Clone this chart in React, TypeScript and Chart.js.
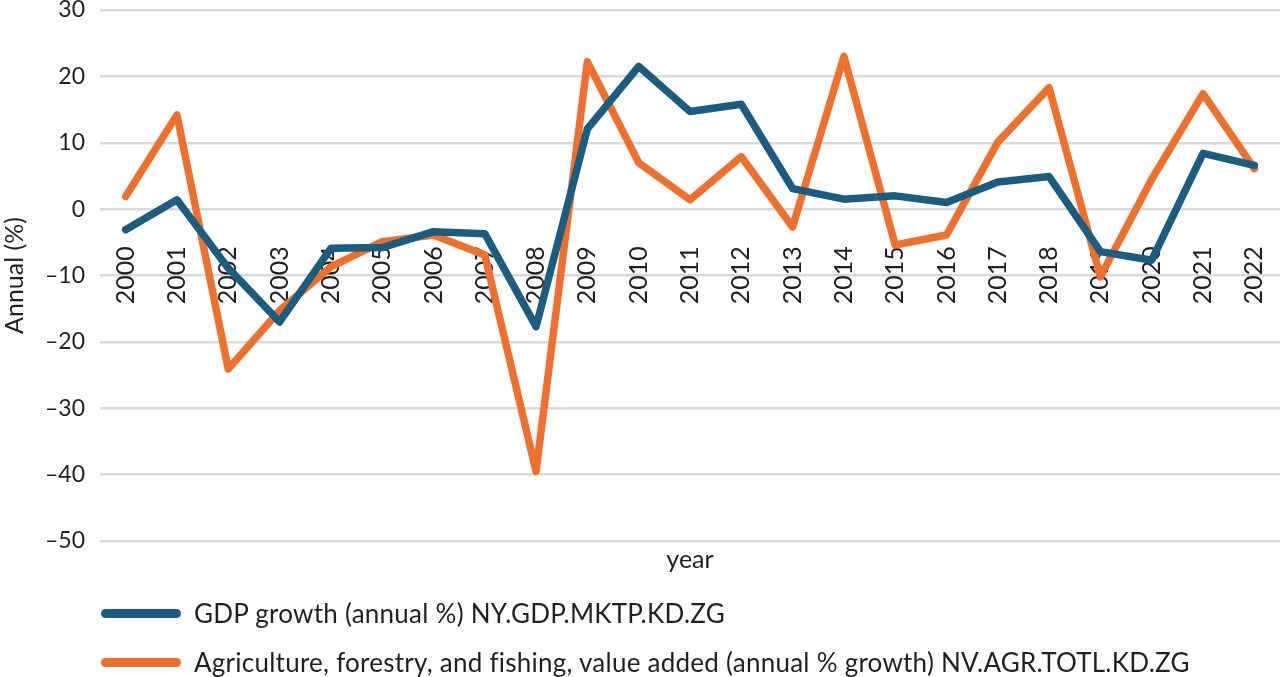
import { useEffect, useRef } from 'react';
import { Chart, registerables } from 'chart.js';

Chart.register(...registerables);

const years = [
  '2000', '2001', '2002', '2003', '2004', '2005', '2006', '2007', '2008', '2009', '2010', '2011',
  '2012', '2013', '2014', '2015', '2016', '2017', '2018', '2019', '2020', '2021', '2022',
];

const gdpGrowth = [
  -3.1, 1.4, -8.9, -17.0, -5.9, -5.8, -3.4, -3.7, -17.7, 12.1, 21.5, 14.7,
  15.8, 3.1, 1.5, 2.0, 1.0, 4.1, 4.9, -6.4, -7.7, 8.4, 6.6,
];

const agriGrowth = [
  1.9, 14.2, -24.1, -15.3, -8.7, -4.9, -3.9, -6.9, -39.5, 22.2, 7.0, 1.4,
  7.9, -2.7, 23.0, -5.4, -3.9, 10.1, 18.3, -10.2, 4.5, 17.4, 6.1,
];

const seriesNames = [
  'GDP growth (annual %) NY.GDP.MKTP.KD.ZG',
  'Agriculture, forestry, and fishing, value added (annual % growth) NV.AGR.TOTL.KD.ZG',
];
const seriesColors = ['#1b5d80', '#ee702e'];

const FONT = 'Lato, "Noto Sans", sans-serif';
const TEXT = '#231f20';

export default function App() {
  const canvasRef = useRef<HTMLCanvasElement>(null);

  useEffect(() => {
    if (!canvasRef.current) return;

    const chart = new Chart(canvasRef.current, {
      type: 'line',
      data: {
        labels: years,
        datasets: [
          {
            label: seriesNames[0],
            data: gdpGrowth,
            borderColor: seriesColors[0],
            borderWidth: 7.5,
            pointRadius: 0,
            tension: 0,
            borderJoinStyle: 'round',
            borderCapStyle: 'round',
          },
          {
            label: seriesNames[1],
            data: agriGrowth,
            borderColor: seriesColors[1],
            borderWidth: 7.5,
            pointRadius: 0,
            tension: 0,
            borderJoinStyle: 'round',
            borderCapStyle: 'round',
          },
        ],
      },
      options: {
        responsive: false,
        animation: false,
        layout: { padding: { top: 0, right: 0, bottom: 98, left: 0 } },
        plugins: {
          legend: { display: false },
          tooltip: { enabled: false },
        },
        scales: {
          x: {
            type: 'category',
            offset: true,
            position: { y: 0 },
            grid: { display: false, drawTicks: false },
            border: { display: false },
            afterFit: (scale) => {
              // rotated labels should not shrink the plot sideways
              scale.paddingLeft = 0;
              scale.paddingRight = 0;
            },
            ticks: {
              minRotation: 90,
              maxRotation: 90,
              autoSkip: false,
              padding: 37,
              color: TEXT,
              font: { family: FONT, size: 25 },
            },
          },
          xTitle: {
            type: 'category',
            position: 'bottom',
            offset: true,
            grid: { display: false, drawTicks: false },
            border: { display: false },
            ticks: { display: false },
            afterFit: (scale) => {
              scale.paddingLeft = 0;
              scale.paddingRight = 0;
            },
            title: {
              display: true,
              text: 'year',
              color: TEXT,
              padding: { top: 4, bottom: 4 },
              font: { family: FONT, size: 25 },
            },
          },
          y: {
            min: -50,
            max: 30,
            afterFit: (scale) => {
              scale.width = 100;
              scale.paddingTop = 10;
              scale.paddingBottom = 0;
            },
            ticks: {
              stepSize: 10,
              padding: 15,
              color: TEXT,
              font: { family: FONT, size: 23 },
              callback: (value) => {
                const v = Number(value);
                return v < 0 ? '\u2013' + Math.abs(v) : String(v);
              },
            },
            grid: { color: '#d9d9d9', lineWidth: 2.5, drawTicks: false },
            border: { display: false },
            title: {
              display: true,
              text: 'Annual (%)',
              color: TEXT,
              padding: 0,
              font: { family: FONT, size: 25 },
            },
          },
        },
      },
    });

    return () => {
      chart.destroy();
    };
  }, []);

  return (
    <div
      style={{
        position: 'fixed',
        left: 0,
        top: 0,
        width: 1280,
        height: 677,
        background: '#fff',
        fontFamily: FONT,
      }}
    >
      <canvas ref={canvasRef} width={1280} height={677} style={{ display: 'block' }} />
      {/* legend: one row per series */}
      {seriesNames.map((name, i) => (
        <div
          key={name}
          style={{
            position: 'absolute',
            left: 101,
            top: 613 + i * 49 - 17,
            height: 34,
            display: 'flex',
            alignItems: 'center',
            whiteSpace: 'nowrap',
            color: TEXT,
            fontSize: 26,
            letterSpacing: 0.25,
          }}
        >
          <span
            style={{
              display: 'inline-block',
              width: 80,
              height: 9,
              borderRadius: 5,
              background: seriesColors[i],
              marginRight: 13,
            }}
          />
          <span>{name}</span>
        </div>
      ))}
    </div>
  );
}
